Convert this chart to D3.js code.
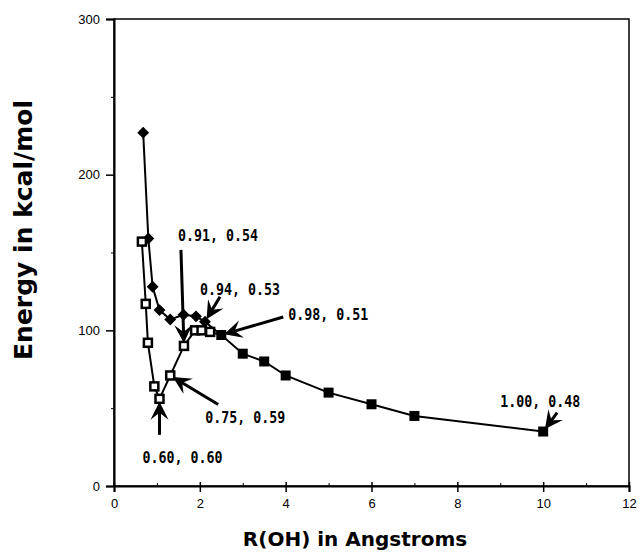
<!DOCTYPE html>
<html>
<head>
<meta charset="utf-8">
<script src="https://cdn.jsdelivr.net/npm/d3@7"></script>
<style>
  body { margin: 0; background: #fff; }
  .tick text { font-family: "Liberation Sans", Arial, sans-serif; font-size: 13px; }
  .note { font-family: "DejaVu Sans Mono", monospace; font-weight: bold; font-size: 16px; }
  .title { font-family: "DejaVu Sans", sans-serif; font-weight: bold; }
</style>
</head>
<body>
<div id="chart"></div>
<script>
// values
var rUpper = [0.68, 0.80, 0.90, 1.06, 1.31, 1.62, 1.91, 2.12];
var eUpper = [227, 159, 128, 113, 107, 110, 109, 105.5];

var rLower = [0.65, 0.74, 0.79, 0.94, 1.06, 1.31, 1.63, 1.89, 2.04, 2.24];
var eLower = [157, 117, 92, 64, 56, 71, 90, 100, 100, 99];

var rTail = [2.5, 3, 3.5, 4, 5, 6, 7, 10];
var eTail = [97, 85, 80, 71, 60, 52.5, 45, 35];

var xTicks = [0, 2, 4, 6, 8, 10, 12];
var yTicks = [0, 100, 200, 300];

var noteText = ["0.91, 0.54", "0.94, 0.53", "0.98, 0.51", "0.75, 0.59", "0.60, 0.60", "1.00, 0.48"];
var noteR = [1.63, 2.12, 2.5, 1.31, 1.06, 10];
var noteE = [90, 105.5, 97, 71, 56, 35];

var width = 640;
var height = 554;

var svg = d3.select("#chart").append("svg")
    .attr("width", width)
    .attr("height", height);

var x = d3.scaleLinear().domain([0, 12]).range([114, 629]);
var y = d3.scaleLinear().domain([0, 300]).range([486, 19]);

// frame
svg.append("rect")
    .attr("x", x(0)).attr("y", y(300))
    .attr("width", x(12) - x(0)).attr("height", y(0) - y(300))
    .attr("fill", "none").attr("stroke", "#000").attr("stroke-width", 1.5);

// axes
var xAxis = d3.axisBottom(x).tickValues(xTicks).tickSize(6).tickPadding(7).tickFormat(d3.format("d"));
var gx = svg.append("g").attr("transform", "translate(0," + y(0) + ")").call(xAxis);
gx.select(".domain").attr("stroke-width", 2);
gx.selectAll(".tick line").attr("y1", -4).attr("stroke-width", 1.5);

var yAxis = d3.axisLeft(y).tickValues(yTicks).tickSize(8).tickPadding(6);
var gy = svg.append("g").attr("transform", "translate(" + x(0) + ",0)").call(yAxis);
gy.select(".domain").attr("stroke-width", 2);
gy.selectAll(".tick line").attr("stroke-width", 1.5);

// minor ticks
var gyMinor = svg.append("g").attr("transform", "translate(" + x(0) + ",0)")
    .call(d3.axisLeft(y).tickValues([50, 150, 250]).tickSize(3).tickFormat(""));
gyMinor.select(".domain").remove();
var gxMinor = svg.append("g").attr("transform", "translate(0," + y(0) + ")")
    .call(d3.axisTop(x).tickValues([1, 3, 5, 7, 9, 11]).tickSize(3).tickFormat(""));
gxMinor.select(".domain").remove();

// axis titles
svg.append("text").attr("class", "title")
    .attr("x", 355).attr("y", 546)
    .attr("text-anchor", "middle")
    .style("font-size", "20px")
    .text("R(OH) in Angstroms");
svg.append("text").attr("class", "title")
    .attr("transform", "translate(32,230)rotate(-90)")
    .attr("text-anchor", "middle")
    .style("font-size", "25px")
    .text("Energy in kcal/mol");

// curves
function pts(rs, es) {
    return rs.map(function(r, i) { return [r, es[i]]; });
}
var upper = pts(rUpper, eUpper);
var lower = pts(rLower, eLower);
var tail = pts(rTail, eTail);

var line = d3.line().x(function(d) { return x(d[0]); }).y(function(d) { return y(d[1]); });

svg.append("path").datum(upper.concat([tail[0]]))
    .attr("d", line).attr("fill", "none").attr("stroke", "#000").attr("stroke-width", 2);
svg.append("path").datum(lower.concat([tail[0]]))
    .attr("d", line).attr("fill", "none").attr("stroke", "#000").attr("stroke-width", 2);
svg.append("path").datum(tail)
    .attr("d", line).attr("fill", "none").attr("stroke", "#000").attr("stroke-width", 2);

// markers
svg.selectAll(".diamond").data(upper).enter().append("path")
    .attr("class", "diamond")
    .attr("d", d3.symbol().type(d3.symbolDiamond2).size(90))
    .attr("transform", function(d) { return "translate(" + x(d[0]) + "," + y(d[1]) + ")"; })
    .attr("fill", "#000");

svg.selectAll(".osq").data(lower).enter().append("rect")
    .attr("class", "osq")
    .attr("x", function(d) { return x(d[0]) - 4; })
    .attr("y", function(d) { return y(d[1]) - 4; })
    .attr("width", 8).attr("height", 8)
    .attr("fill", "#fff").attr("stroke", "#000").attr("stroke-width", 2.5);

svg.selectAll(".fsq").data(tail).enter().append("rect")
    .attr("class", "fsq")
    .attr("x", function(d) { return x(d[0]) - 5; })
    .attr("y", function(d) { return y(d[1]) - 5; })
    .attr("width", 10).attr("height", 10)
    .attr("fill", "#000");

// annotations: label offset and arrow start relative to the target point (px)
var noteLayout = [
    { lx: -6,  ly: -105, sx: -3,  sy: -96 },
    { lx: -5,  ly: -27,  sx: 15,  sy: -25 },
    { lx: 67,  ly: -15,  sx: 62,  sy: -18 },
    { lx: 35,  ly: 48,   sx: 48,  sy: 29 },
    { lx: -17, ly: 64,   sx: 0,   sy: 36 },
    { lx: -43, ly: -25,  sx: 14,  sy: -19 }
];

function arrowHead(x1, y1, x2, y2) {
    var a = Math.atan2(y2 - y1, x2 - x1);
    var len = 18, half = 9, notch = 11;
    function p(dl, dw) {
        return [x2 - dl * Math.cos(a) - dw * Math.sin(a), y2 - dl * Math.sin(a) + dw * Math.cos(a)];
    }
    return [[x2, y2], p(len, half), p(notch, 0), p(len, -half)];
}

noteText.forEach(function(t, i) {
    var tx = x(noteR[i]), ty = y(noteE[i]);
    var L = noteLayout[i];
    var x1 = tx + L.sx, y1 = ty + L.sy;
    var ang = Math.atan2(ty - y1, tx - x1);
    var x2 = tx - 3 * Math.cos(ang), y2 = ty - 3 * Math.sin(ang);
    svg.append("line")
        .attr("x1", x1).attr("y1", y1)
        .attr("x2", x2 - 10 * Math.cos(ang)).attr("y2", y2 - 10 * Math.sin(ang))
        .attr("stroke", "#000").attr("stroke-width", 3);
    svg.append("polygon")
        .attr("points", arrowHead(x1, y1, x2, y2).join(" "))
        .attr("fill", "#000");
    svg.append("text").attr("class", "note")
        .attr("x", tx + L.lx).attr("y", ty + L.ly)
        .attr("textLength", 80).attr("lengthAdjust", "spacingAndGlyphs")
        .text(t);
});
</script>
</body>
</html>
